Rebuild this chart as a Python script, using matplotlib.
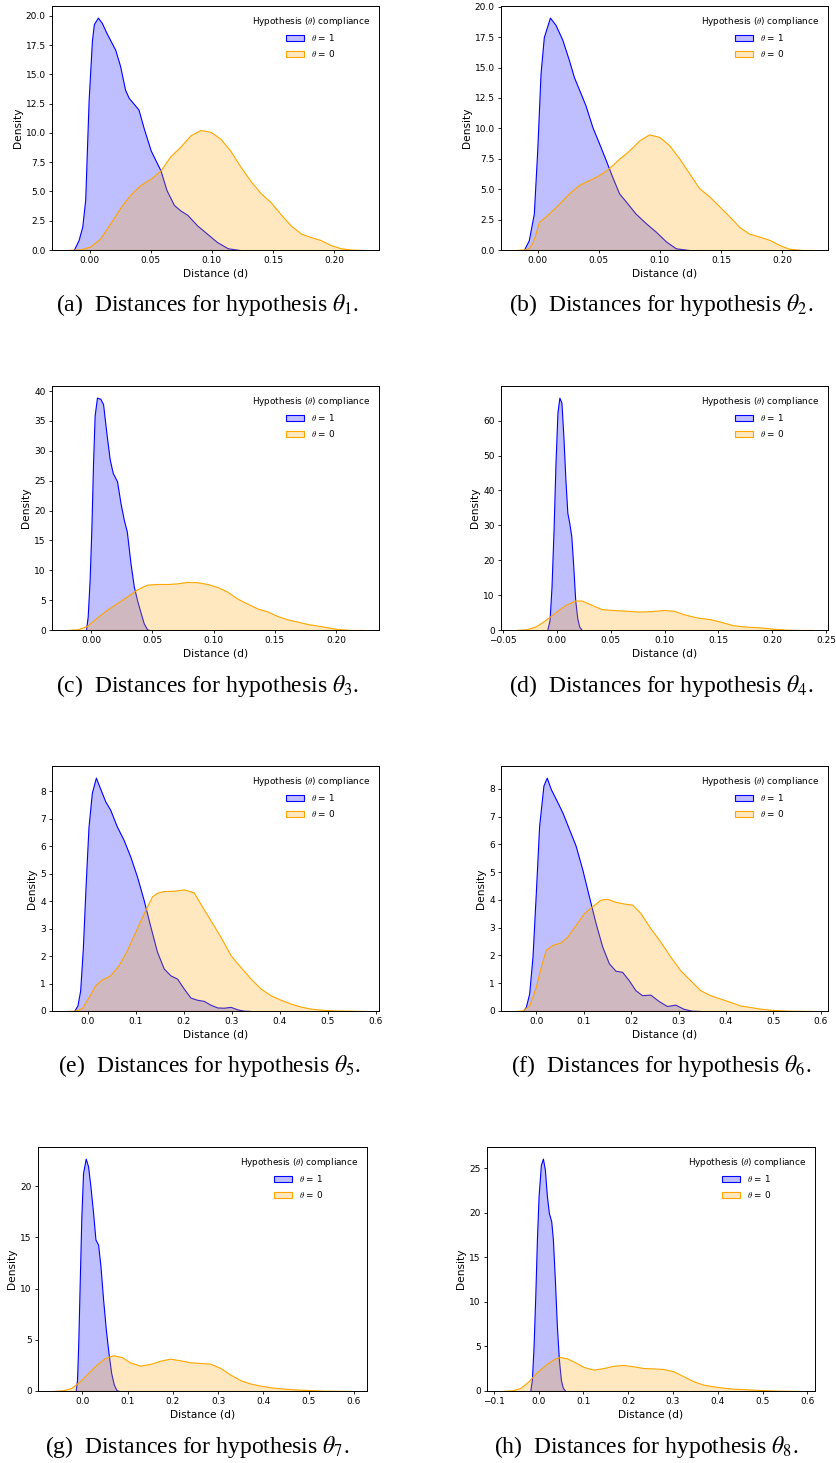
import matplotlib
matplotlib.use("Agg")
import matplotlib.pyplot as plt
from matplotlib.colors import to_rgba
from matplotlib.font_manager import FontProperties
from matplotlib.ticker import MultipleLocator

# densities, one pair of lists per curve
# theta = 1 -> x1/y1, theta = 0 -> x0/y0

# (a)
a_x1 = [-0.013, -0.009, -0.006, -0.0036, -0.0008, 0.0019, 0.0035, 0.0068, 0.010, 0.014, 0.021, 0.025,
        0.029, 0.032, 0.036, 0.040, 0.044, 0.050, 0.058, 0.063, 0.069, 0.074, 0.080, 0.088, 0.096,
        0.104, 0.113, 0.123]
a_y1 = [0, 0.85, 2.0, 4.3, 12.8, 17.9, 19.3, 19.85, 19.4, 18.5, 17.1, 15.7,
        13.7, 13.0, 12.5, 12.0, 10.5, 8.5, 6.8, 5.1, 3.85, 3.4, 3.0, 2.1, 1.4,
        0.7, 0.15, 0]
a_x0 = [-0.0186, -0.0077, 0.0005, 0.0087, 0.017, 0.025, 0.033, 0.0415, 0.050, 0.058, 0.066, 0.074,
        0.0825, 0.0907, 0.099, 0.107, 0.115, 0.1235, 0.132, 0.140, 0.148, 0.156, 0.1645, 0.173,
        0.181, 0.189, 0.197, 0.2055, 0.214, 0.2246]
a_y0 = [0, 0.05, 0.3, 1.0, 2.3, 3.6, 4.7, 5.55, 6.1, 6.8, 8.0, 8.8,
        9.8, 10.25, 10.1, 9.5, 8.5, 7.1, 5.85, 4.85, 4.1, 3.1, 2.1, 1.4,
        1.1, 0.85, 0.43, 0.15, 0.03, 0]

# (b)
b_x1 = [-0.0115, -0.0074, -0.0033, -0.0005, 0.0022, 0.0049, 0.0099, 0.0145, 0.020, 0.0255, 0.0296,
        0.0337, 0.039, 0.0447, 0.050, 0.0556, 0.061, 0.0666, 0.072, 0.080, 0.0885, 0.0967, 0.105,
        0.113, 0.124]
b_y1 = [0, 0.8, 3.0, 8.2, 14.5, 17.5, 19.1, 18.5, 17.3, 15.6, 14.2,
        13.2, 11.9, 10.1, 8.8, 7.4, 6.0, 4.65, 4.0, 3.0, 2.2, 1.5, 0.7,
        0.14, 0]
b_x0 = [-0.018, -0.010, -0.0074, -0.0047, -0.002, 0.0008, 0.009, 0.0173, 0.0255, 0.0337, 0.042, 0.050,
        0.058, 0.0666, 0.075, 0.083, 0.091, 0.0995, 0.1077, 0.116, 0.124, 0.132, 0.1405, 0.149,
        0.157, 0.165, 0.173, 0.1816, 0.190, 0.198, 0.206, 0.217, 0.2255]
b_y0 = [0, 0.05, 0.2, 0.55, 1.3, 2.3, 3.0, 3.8, 4.65, 5.35, 5.75, 6.15,
        6.7, 7.5, 8.2, 9.0, 9.5, 9.3, 8.6, 7.5, 6.3, 5.1, 4.4, 3.55,
        2.75, 1.9, 1.35, 1.1, 0.82, 0.4, 0.1, 0, 0]

# (c)
c_x1 = [-0.0044, -0.003, -0.0014, 0.0, 0.0014, 0.0027, 0.0046, 0.0074, 0.0096, 0.0123, 0.015,
        0.0175, 0.021, 0.0238, 0.0265, 0.029, 0.032, 0.0347, 0.0374, 0.040, 0.0429, 0.0456, 0.0475]
c_y1 = [0, 2.2, 8.4, 16.8, 28, 35.9, 38.9, 38.7, 37.8, 33, 28.6,
        26.3, 24.9, 21.3, 18.5, 16.5, 11.2, 7.3, 5.0, 3.1, 1.1, 0.1, 0]
c_x0 = [-0.020, -0.0117, -0.0036, 0.0046, 0.0128, 0.021, 0.029, 0.0374, 0.0456, 0.0538, 0.062,
        0.070, 0.0784, 0.0866, 0.0948, 0.103, 0.111, 0.119, 0.1276, 0.1358, 0.144, 0.152, 0.160,
        0.1686, 0.1768, 0.185, 0.193, 0.201, 0.212, 0.223]
c_y0 = [0, 0.1, 0.67, 2.1, 3.4, 4.5, 5.6, 6.8, 7.6, 7.7, 7.7,
        7.8, 8.05, 8.0, 7.7, 7.2, 6.45, 5.3, 4.4, 3.6, 3.1, 2.35, 1.8,
        1.4, 1.0, 0.73, 0.45, 0.17, 0, 0]

# (d)
d_x1 = [-0.0089, -0.0067, -0.0049, -0.003, -0.0012, 0.0006, 0.0024, 0.0043, 0.0061, 0.008, 0.0098,
        0.0116, 0.0135, 0.0153, 0.0171, 0.019, 0.0208, 0.0232]
d_y1 = [0, 2.9, 12.5, 28.8, 48, 62.3, 66.6, 65.2, 55.6, 43.1, 33.6,
        30.7, 26.8, 18.2, 8.6, 3.4, 1.0, 0]
d_x0 = [-0.038, -0.0287, -0.0196, -0.0104, -0.0012, 0.008, 0.0171, 0.0232, 0.0324, 0.0416, 0.0508,
        0.063, 0.0752, 0.0875, 0.0997, 0.1089, 0.118, 0.130, 0.1425, 0.1517, 0.164, 0.176, 0.188,
        0.2006, 0.2128, 0.225, 0.238]
d_y0 = [0, 0.2, 1.0, 2.9, 5.1, 7.2, 8.45, 8.45, 7.2, 6.0, 5.75,
        5.56, 5.3, 5.4, 5.75, 5.5, 4.5, 3.6, 3.1, 2.4, 1.35, 0.96, 0.77,
        0.38, 0.1, 0, 0]

# (e)
e_x1 = [-0.028, -0.021, -0.0153, -0.0097, -0.0042, 0.002, 0.009, 0.0174, 0.0264, 0.0369, 0.0473,
        0.0612, 0.075, 0.089, 0.103, 0.117, 0.131, 0.1447, 0.1587, 0.1726, 0.1865, 0.2004, 0.2143,
        0.228, 0.242, 0.256, 0.270, 0.284, 0.298, 0.312, 0.3257, 0.340]
e_y1 = [0, 0.2, 0.75, 2.3, 4.5, 6.7, 7.95, 8.5, 8.1, 7.64, 7.33,
        6.72, 6.24, 5.63, 4.9, 4.04, 3.07, 2.16, 1.55, 1.3, 1.18, 0.82, 0.49,
        0.41, 0.37, 0.23, 0.13, 0.12, 0.15, 0.06, 0.01, 0]
e_x0 = [-0.043, -0.0257, -0.0118, 0.002, 0.016, 0.030, 0.0473, 0.0647, 0.082, 0.0995, 0.117,
        0.134, 0.1447, 0.1587, 0.1795, 0.2004, 0.2213, 0.2387, 0.256, 0.277, 0.298, 0.3187, 0.3396,
        0.3605, 0.3813, 0.4022, 0.423, 0.444, 0.465, 0.4857, 0.5136, 0.548, 0.576]
e_y0 = [0, 0.01, 0.11, 0.5, 0.94, 1.15, 1.3, 1.67, 2.22, 2.89, 3.56,
        4.17, 4.31, 4.37, 4.38, 4.43, 4.32, 3.8, 3.31, 2.7, 2.03, 1.6, 1.18,
        0.82, 0.57, 0.41, 0.27, 0.16, 0.085, 0.05, 0.02, 0.01, 0]

# (f)
f_x1 = [-0.029, -0.0224, -0.0154, -0.0084, -0.0014, 0.0056, 0.0147, 0.0217, 0.030, 0.0406, 0.0547,
        0.0687, 0.0827, 0.0967, 0.1107, 0.1247, 0.1388, 0.1528, 0.1668, 0.1808, 0.1948, 0.2088,
        0.2228, 0.2404, 0.2579, 0.2754, 0.293, 0.3104, 0.328, 0.3455]
f_y1 = [0, 0.15, 0.63, 1.96, 4.25, 6.67, 8.12, 8.4, 8.0, 7.64, 7.15,
        6.55, 5.95, 5.1, 4.13, 3.17, 2.32, 1.72, 1.45, 1.41, 1.11, 0.75,
        0.57, 0.59, 0.36, 0.18, 0.23, 0.08, 0.01, 0]
f_x0 = [-0.0435, -0.0294, -0.0154, -0.0014, 0.0091, 0.0196, 0.0336, 0.0512, 0.0652, 0.0827, 0.1002,
        0.1177, 0.1352, 0.1493, 0.1668, 0.1843, 0.2018, 0.2193, 0.2404, 0.2614, 0.2824, 0.3034,
        0.3245, 0.3455, 0.3665, 0.3875, 0.4085, 0.4296, 0.4506, 0.4716, 0.4996, 0.5347, 0.584]
f_y0 = [0, 0.02, 0.2, 0.87, 1.6, 2.2, 2.38, 2.47, 2.68, 3.1, 3.53,
        3.77, 4.01, 4.04, 3.93, 3.87, 3.83, 3.53, 2.98, 2.5, 1.96, 1.47,
        1.11, 0.75, 0.57, 0.45, 0.33, 0.2, 0.145, 0.085, 0.036, 0.01, 0]

# (g)
g_x1 = [-0.0148, -0.0118, -0.0089, -0.0059, -0.0022, 0.0015, 0.0074, 0.0126, 0.0178, 0.0237,
        0.0289, 0.0348, 0.040, 0.0459, 0.0519, 0.0578, 0.0637, 0.0696, 0.0756, 0.0815]
g_y1 = [0, 1.1, 5.0, 10.55, 17.1, 21.3, 22.7, 21.95, 20.0, 17.4,
        14.8, 14.3, 12.2, 8.9, 6.0, 3.7, 1.76, 0.62, 0.07, 0]
g_x0 = [-0.065, -0.043, -0.0244, -0.0059, 0.0126, 0.0311, 0.0496, 0.0681, 0.0867, 0.1052, 0.1274,
        0.1496, 0.1719, 0.194, 0.2163, 0.2385, 0.2607, 0.283, 0.305, 0.327, 0.350, 0.372, 0.394,
        0.416, 0.4385, 0.468, 0.498, 0.535, 0.596]
g_y0 = [0, 0.07, 0.3, 0.94, 1.76, 2.57, 3.22, 3.49, 3.32, 2.8, 2.48,
        2.64, 2.96, 3.16, 3.0, 2.8, 2.74, 2.67, 2.25, 1.6, 1.04, 0.72, 0.52,
        0.36, 0.26, 0.16, 0.1, 0.03, 0]

# (h)
h_x1 = [-0.0186, -0.0149, -0.0112, -0.0074, -0.0037, 0.0, 0.0052, 0.0097, 0.0141, 0.0186, 0.023,
        0.0283, 0.032, 0.0364, 0.0409, 0.0454, 0.0498, 0.0543, 0.0602]
h_y1 = [0, 1.27, 5.0, 10.6, 17.0, 21.9, 25.4, 26.1, 24.85, 21.9, 20.0,
        19.05, 17.0, 12.5, 7.26, 3.52, 1.27, 0.34, 0]
h_x0 = [-0.0818, -0.0595, -0.0409, -0.0223, -0.0037, 0.0186, 0.0372, 0.0483, 0.0632, 0.0818,
        0.1004, 0.1227, 0.145, 0.1673, 0.1896, 0.2119, 0.2342, 0.2565, 0.2788, 0.3011, 0.3234,
        0.3457, 0.368, 0.3903, 0.4126, 0.4349, 0.4647, 0.4944, 0.5316, 0.5836]
h_y0 = [0, 0.07, 0.34, 1.09, 2.13, 3.07, 3.67, 3.82, 3.67, 3.22,
        2.7, 2.4, 2.58, 2.84, 2.92, 2.77, 2.58, 2.54, 2.47, 2.21, 1.65,
        1.09, 0.71, 0.52, 0.37, 0.26, 0.19, 0.11, 0.04, 0]

letters = ["a", "b", "c", "d", "e", "f", "g", "h"]
x_steps = [0.05, 0.05, 0.05, 0.05, 0.1, 0.1, 0.1, 0.1]
y_steps = [2.5, 2.5, 5, 10, 1, 1, 5, 5]
curves = [
    (a_x1, a_y1, a_x0, a_y0), (b_x1, b_y1, b_x0, b_y0),
    (c_x1, c_y1, c_x0, c_y0), (d_x1, d_y1, d_x0, d_y0),
    (e_x1, e_y1, e_x0, e_y0), (f_x1, f_y1, f_x0, f_y0),
    (g_x1, g_y1, g_x0, g_y0), (h_x1, h_y1, h_x0, h_y0),
]

# axes boxes in pixels (left, top, right, bottom) and caption centres
W, H = 836, 1463
boxes = [(52, 6, 379, 250), (501, 6, 828, 250),
         (52, 386, 379, 630), (501, 386, 828, 630),
         (52, 766, 379, 1011), (501, 766, 828, 1011),
         (38, 1147, 367, 1391), (487, 1147, 815, 1391)]
captions = [(208, 305), (661, 305), (208, 686), (661, 686),
            (210, 1066), (661, 1066), (197, 1447), (646, 1447)]

fig = plt.figure(figsize=(W / 100, H / 100), dpi=100)

leg_font = FontProperties(family="DejaVu Sans", size=6.4, math_fontfamily="cm")

for i, (xs1, ys1, xs0, ys0) in enumerate(curves):
    l, t, r, b = boxes[i]
    ax = fig.add_axes([l / W, 1 - b / H, (r - l) / W, (b - t) / H])

    ax.fill_between(xs1, ys1, 0, facecolor=to_rgba("blue", 0.25), edgecolor="blue",
                    linewidth=0.8, label=r"$\theta$ = 1")
    ax.fill_between(xs0, ys0, 0, facecolor=to_rgba("orange", 0.25), edgecolor="orange",
                    linewidth=0.8, label=r"$\theta$ = 0")

    ax.margins(x=0.05, y=0.05)
    top = ax.get_ylim()[1]
    ax.set_ylim(0, top)

    ax.xaxis.set_major_locator(MultipleLocator(x_steps[i]))
    ax.yaxis.set_major_locator(MultipleLocator(y_steps[i]))
    ax.tick_params(labelsize=6.5, length=2.5, width=0.6, pad=2)
    for sp in ax.spines.values():
        sp.set_linewidth(0.7)

    ax.set_xlabel("Distance (d)", fontsize=7.7, labelpad=2)
    ax.set_ylabel("Density", fontsize=7.7, labelpad=2)

    ax.legend(title=r"Hypothesis ($\theta$) compliance", loc="upper right", frameon=False,
              prop=leg_font, title_fontproperties=leg_font, borderaxespad=0.6)

    cx, cy = captions[i]
    fig.text(cx / W, 1 - cy / H,
             "(%s)  Distances for hypothesis $\\theta_{%d}$." % (letters[i], i + 1),
             ha="center", va="center", fontfamily="Liberation Serif", fontsize=17,
             math_fontfamily="stix")

fig.savefig("out.png", dpi=100)
